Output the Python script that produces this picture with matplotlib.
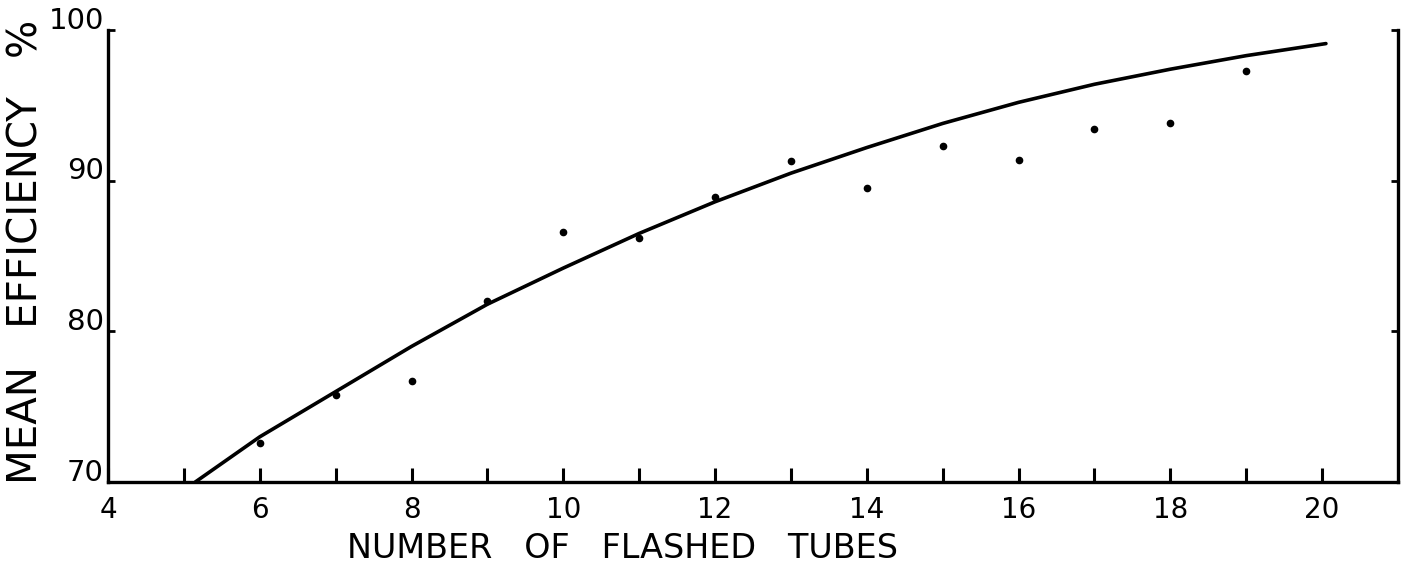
#
#   Mean efficiency vs number of flashed tubes
#

import matplotlib
matplotlib.use("Agg")
import matplotlib.pyplot as plt
from matplotlib.transforms import ScaledTranslation

# measured points
tubes = [6, 7, 8, 9, 10, 11, 12, 13, 14, 15, 16, 17, 18, 19]
efficiency = [72.6, 75.8, 76.7, 82.0, 86.6, 86.2, 88.9, 91.3, 89.5, 92.3, 91.4, 93.4, 93.8, 97.3]

# drawn curve
curve_x = [5.15, 6, 7, 8, 9, 10, 11, 12, 13, 14, 15, 16, 17, 18, 19, 20.05]
curve_y = [70.0, 73.0, 76.0, 79.0, 81.8, 84.2, 86.5, 88.6, 90.5, 92.2, 93.8, 95.2, 96.4, 97.4, 98.3, 99.1]

x_ticks = [4, 6, 8, 10, 12, 14, 16, 18, 20]
x_minor = [5, 7, 9, 11, 13, 15, 17, 19]
y_ticks = [70, 80, 90, 100]


def make_plot():
    fig = plt.figure(figsize=(14.14, 5.73), dpi=100)
    ax = fig.add_axes([0.0764, 0.1588, 0.9123, 0.7888])

    ax.plot(curve_x, curve_y, color="black", lw=2.6, solid_capstyle="round")
    ax.plot(tubes, efficiency, "o", color="black", ms=4.5)

    ax.set_xlim(4, 21)
    ax.set_ylim(70, 100)

    ax.spines["top"].set_visible(False)
    for s in ["left", "bottom", "right"]:
        ax.spines[s].set_linewidth(2.4)

    ax.set_xticks(x_ticks)
    ax.set_xticks(x_minor, minor=True)
    ax.set_xticklabels([str(v) for v in x_ticks])
    ax.set_yticks(y_ticks)
    ax.set_yticklabels([str(v) for v in y_ticks])

    ax.tick_params(axis="x", which="both", direction="in", length=10, width=2.2,
                   labelsize=20, pad=10, top=False)
    ax.tick_params(axis="y", direction="in", length=5, width=2.0,
                   labelsize=21, pad=3, right=True)

    for lab in ax.get_yticklabels():
        lab.set_transform(lab.get_transform() + ScaledTranslation(0, 9 / 72, fig.dpi_scale_trans))

    fig.text(0.019, 0.56, "MEAN   EFFICIENCY   %", rotation=90, fontsize=29,
             ha="center", va="center")
    fig.text(0.44, 0.042, "NUMBER   OF   FLASHED   TUBES", fontsize=24,
             ha="center", va="center")

    fig.savefig("out.png", dpi=100)


if __name__ == "__main__":
    make_plot()
